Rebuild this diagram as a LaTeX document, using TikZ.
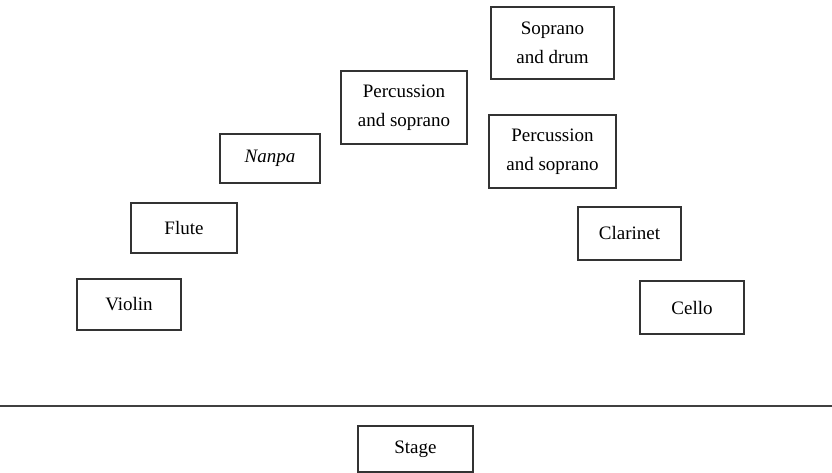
\documentclass[tikz,border=0pt]{standalone}
\usepackage{fontspec}
\setmainfont{Liberation Serif}
\begin{document}
\begin{tikzpicture}[x=1pt,y=-1pt,
  box/.style={draw=black!80, line width=1.1pt, inner sep=0pt, align=center,
    font=\fontsize{19}{29}\selectfont}]
\useasboundingbox (0,0) rectangle (832,473);
\newcommand{\bx}[6]{\node[box, minimum width={#4-#2}, minimum height={#5-#3}] (#1) at ({(#2+#4)/2},{(#3+#5)/2}) {#6};}
\bx{sd}{491}{7}{614}{79}{Soprano\\and drum}
\bx{psl}{341}{71}{467}{144}{Percussion\\and soprano}
\bx{psr}{489}{115}{616}{188}{Percussion\\and soprano}
\bx{nanpa}{220}{134}{320}{183}{\textit{Nanpa}}
\bx{flute}{131}{203}{237}{253}{Flute}
\bx{violin}{77}{279}{181}{330}{Violin}
\bx{clar}{578}{207}{681}{260}{Clarinet}
\bx{cello}{640}{281}{744}{334}{Cello}
\bx{stage}{358}{426}{473}{472}{Stage}
\coordinate (l1) at (0,406);
\coordinate (l2) at (832,406);
\draw[black!75, line width=1.4pt] (l1) -- (l2);
\end{tikzpicture}
\end{document}
